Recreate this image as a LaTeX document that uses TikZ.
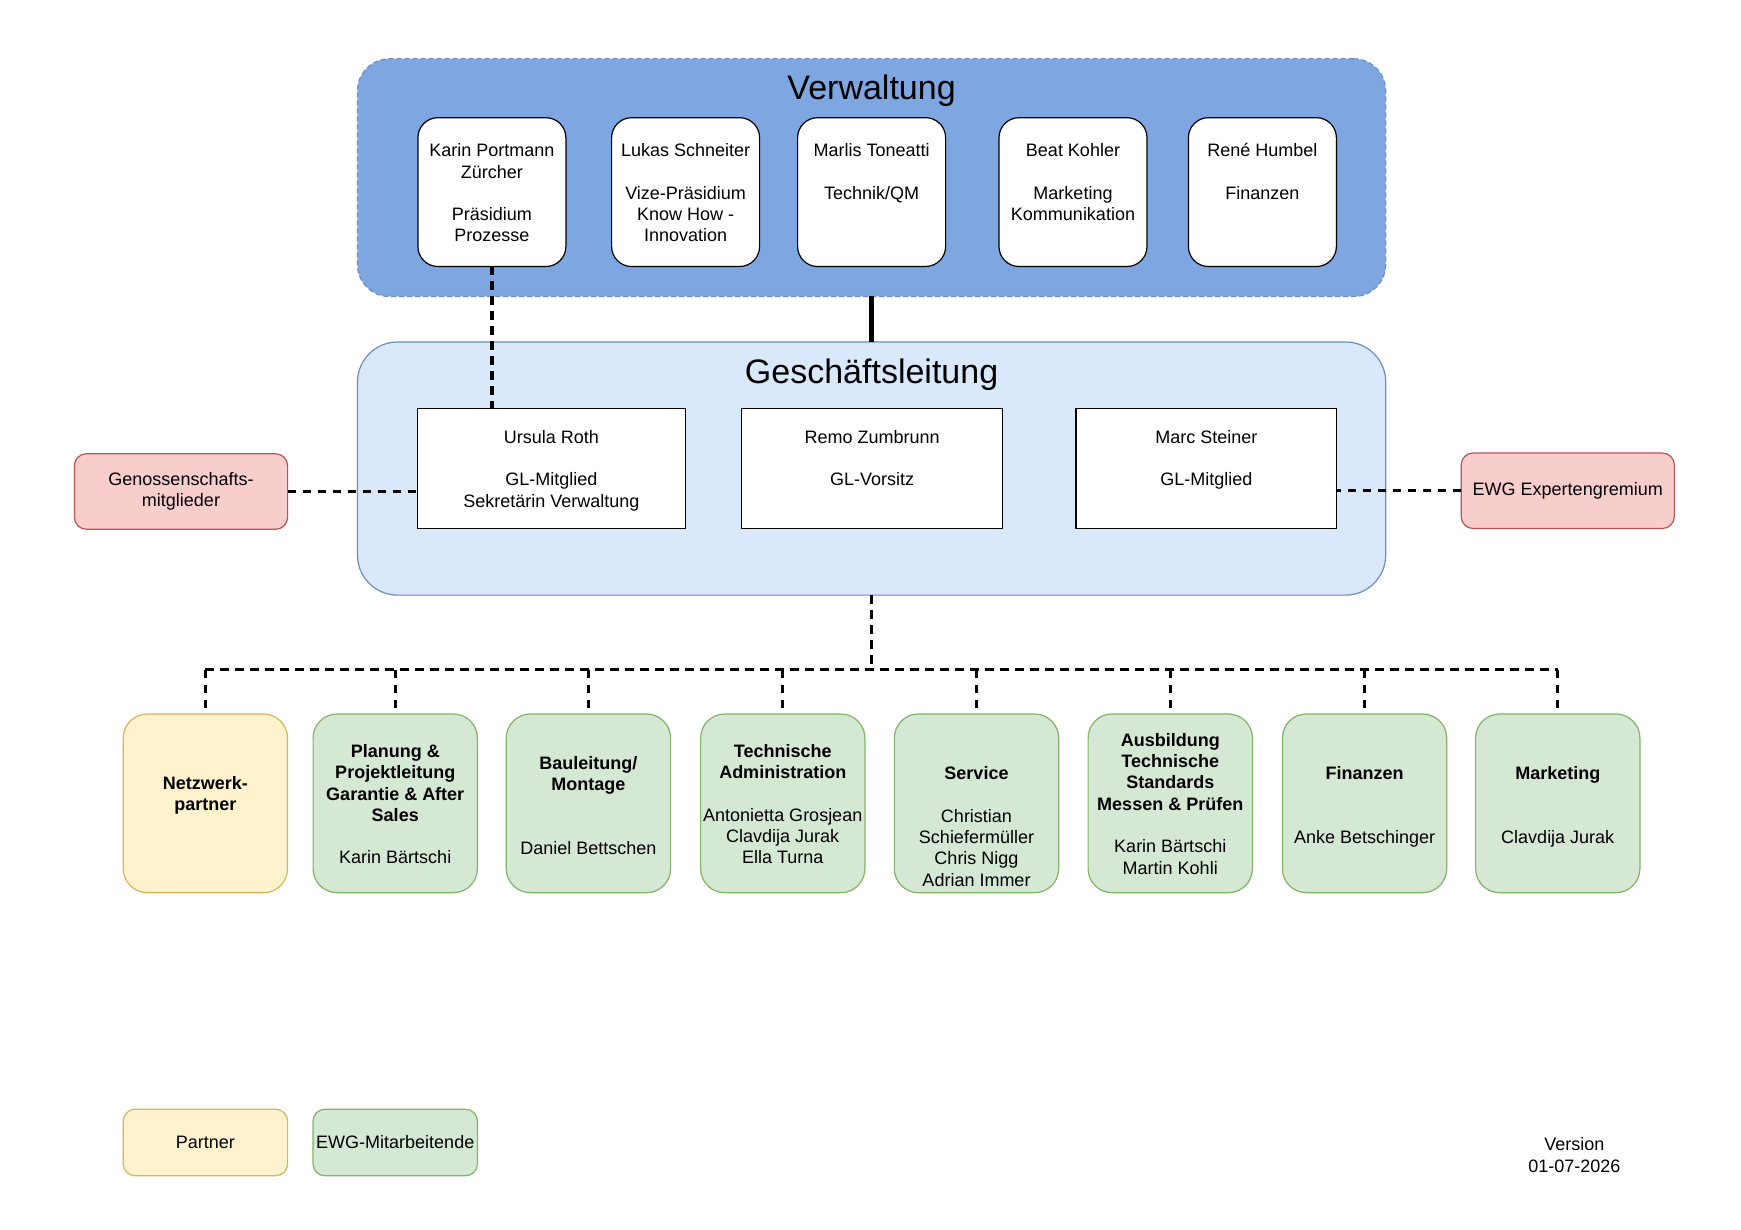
\documentclass[tikz,border=0pt]{standalone}
\usepackage{fontspec}
\setmainfont{Liberation Sans}
\definecolor{vblue}{HTML}{7EA6E0}
\definecolor{lblue}{HTML}{DAE8FC}
\definecolor{bborder}{HTML}{6C8EBF}
\definecolor{rfill}{HTML}{F8CECC}
\definecolor{rborder}{HTML}{B85450}
\definecolor{gfill}{HTML}{D5E8D4}
\definecolor{gborder}{HTML}{82B366}
\definecolor{yfill}{HTML}{FFF2CC}
\definecolor{yborder}{HTML}{D6B656}
\tikzset{
  base/.style={draw, line width=0.6pt, inner sep=0pt, outer sep=0pt},
  vcont/.style={base, fill=vblue, draw=bborder, dash pattern=on 2.5pt off 1.5pt, rounded corners=16pt, minimum width=514.1pt, minimum height=118.85pt},
  glcont/.style={base, fill=lblue, draw=bborder, rounded corners=20pt, minimum width=514.1pt, minimum height=126.55pt},
  vbox/.style={base, fill=white, rounded corners=10pt, minimum width=74pt, minimum height=74.4pt},
  glbox/.style={base, fill=white, minimum height=59.95pt},
  redbox/.style={base, fill=rfill, draw=rborder, rounded corners=6pt, minimum width=106.6pt, minimum height=37.75pt, align=center, font=\fontsize{9}{10.65}\selectfont},
  gbox/.style={base, fill=gfill, draw=gborder, rounded corners=12pt, minimum width=82.15pt, minimum height=89.35pt},
  ybox/.style={base, fill=yfill, draw=yborder, rounded corners=12pt, minimum width=82.15pt, minimum height=89.35pt},
  leg/.style={base, rounded corners=6pt, minimum width=82.2pt, minimum height=33.3pt, font=\fontsize{9}{10.65}\selectfont},
  txt/.style={align=center, inner sep=0pt, anchor=north, font=\fontsize{9}{10.65}\selectfont},
  ttl/.style={inner sep=0pt, font=\fontsize{17}{20}\selectfont},
  dline/.style={line width=1.6pt, dash pattern=on 4.2pt off 3.3pt},
  sline/.style={line width=2.2pt},
}
\begin{document}
\begin{tikzpicture}[x=0.5pt,y=-0.5pt]
\useasboundingbox[fill=white] (0,0) rectangle (1741,1230);

% Verwaltung
\node[vcont] (verw) at (871.6,177.65) {};
\node[ttl] (verwt) at (871.6,90.5) {Verwaltung};
\node[vbox] (v1) at (491.9,192.1) {};
\node[vbox] (v2) at (685.6,192.1) {};
\node[vbox] (v3) at (871.6,192.1) {};
\node[vbox] (v4) at (1073,192.1) {};
\node[vbox] (v5) at (1262.4,192.1) {};
\node[txt] (v1t) at (491.9,143.3) {Karin Portmann\\Zürcher\\~\\Präsidium\\Prozesse};
\node[txt] (v2t) at (685.6,143.3) {Lukas Schneiter\\~\\Vize-Präsidium\\Know How -\\Innovation};
\node[txt] (v3t) at (871.6,143.3) {Marlis Toneatti\\~\\Technik/QM};
\node[txt] (v4t) at (1073,143.3) {Beat Kohler\\~\\Marketing\\Kommunikation};
\node[txt] (v5t) at (1262.4,143.3) {René Humbel\\~\\Finanzen};

% Geschaeftsleitung
\node[glcont] (gl) at (871.6,468.55) {};
\node[ttl] (glt) at (871.6,375) {Geschäftsleitung};
\node[glbox, minimum width=133.8pt] (ur) at (551.3,468.55) {};
\node[glbox, minimum width=130.45pt] (rz) at (872.15,468.55) {};
\node[glbox, minimum width=130.45pt] (ms) at (1206.35,468.55) {};
\node[txt] (urt) at (551.3,429.7) {Ursula Roth\\~\\GL-Mitglied\\Sekretärin Verwaltung};
\node[txt] (rzt) at (872.15,429.7) {Remo Zumbrunn\\~\\GL-Vorsitz};
\node[txt] (mst) at (1206.35,429.7) {Marc Steiner\\~\\GL-Mitglied};

% side boxes
\node[redbox] (gen) at (181,491.5) {Genossenschafts-\\mitglieder};
\node[redbox] (ewg) at (1567.75,490.75) {EWG Expertengremium};

% bottom boxes
\node[ybox] (b1) at (205.4,803.35) {};
\node[gbox] (b2) at (395.25,803.35) {};
\node[gbox] (b3) at (588.45,803.35) {};
\node[gbox] (b4) at (782.75,803.35) {};
\node[gbox] (b5) at (976.5,803.35) {};
\node[gbox] (b6) at (1170.25,803.35) {};
\node[gbox] (b7) at (1364.55,803.35) {};
\node[gbox] (b8) at (1557.75,803.35) {};
\node[txt] (b1t) at (205.4,776) {\bfseries Netzwerk-\\\bfseries partner};
\node[txt] (b2t) at (395.25,744) {\bfseries Planung \&\\\bfseries Projektleitung\\\bfseries Garantie \& After\\\bfseries Sales\\~\\Karin Bärtschi};
\node[txt] (b3t) at (588.45,756.2) {\bfseries Bauleitung/\\\bfseries Montage\\~\\~\\Daniel Bettschen};
\node[txt] (b4t) at (782.75,744) {\bfseries Technische\\\bfseries Administration\\~\\Antonietta Grosjean\\Clavdija Jurak\\Ella Turna};
\node[txt] (b5t) at (976.5,766.2) {\bfseries Service\\~\\Christian\\Schiefermüller\\Chris Nigg\\Adrian Immer};
\node[txt] (b6t) at (1170.25,732.9) {\bfseries Ausbildung\\\bfseries Technische\\\bfseries Standards\\\bfseries Messen \& Prüfen\\~\\Karin Bärtschi\\Martin Kohli};
\node[txt] (b7t) at (1364.55,766.2) {\bfseries Finanzen\\~\\~\\Anke Betschinger};
\node[txt] (b8t) at (1557.75,766.2) {\bfseries Marketing\\~\\~\\Clavdija Jurak};

% legend
\node[leg, fill=yfill, draw=yborder] (lp) at (205.4,1142.5) {Partner};
\node[leg, fill=gfill, draw=gborder] (le) at (395.25,1142.5) {EWG-Mitarbeitende};
\node[txt, anchor=center] (ver) at (1574.4,1155) {Version\\01-07-2026};

% connectors
\draw[sline] (verw.south) -- (gl.north);
\draw[dline] (v1.south) -- (v1.south |- ur.north);
\draw[dline] (gen.east) -- (gen.east -| ur.west);
\draw[dline] (ewg.west) -- (ewg.west -| ms.east);
\coordinate (bus) at (871.6,669.5);
\draw[dline] (gl.south) -- (bus);
\draw[dline] (b1.north |- bus) -- (b8.north |- bus);
\foreach \b in {b1,b2,b3,b4,b5,b6,b7,b8}{
  \draw[dline] (\b.north |- bus) -- (\b.north);
}
\end{tikzpicture}
\end{document}
